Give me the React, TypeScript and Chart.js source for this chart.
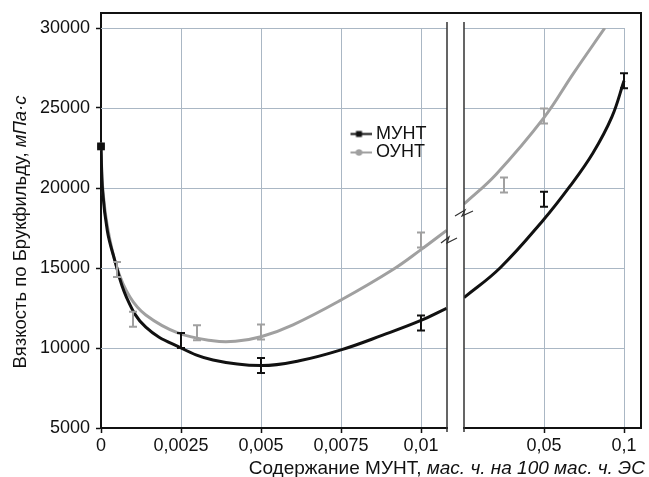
import { useEffect, useRef } from 'react';
import { Chart, registerables } from 'chart.js';

Chart.register(...registerables);

// ---- axes ----
const Y_TICKS = [5000, 10000, 15000, 20000, 25000, 30000];
const X_LEFT_TICKS = [0, 0.0025, 0.005, 0.0075, 0.01];
const X_LEFT_LABELS = ['0', '0,0025', '0,005', '0,0075', '0,01'];
const X_RIGHT_TICKS = [0.05, 0.1];
const X_RIGHT_LABELS = ['0,05', '0,1'];

const SERIES = ['МУНТ', 'ОУНТ'];
const X_TITLE_MAIN = 'Содержание МУНТ, ';
const X_TITLE_UNIT = 'мас. ч. на 100 мас. ч. ЭС';
const Y_TITLE_MAIN = 'Вязкость по Брукфильду, ';
const Y_TITLE_UNIT = 'мПа·с';

// ---- starting value (both series) ----
const START_X = [0];
const START_Y = [22600];

// ---- fitted curves: МУНТ ----
const MUNT_FIT_LEFT_X = [0, 0.00005, 0.0002, 0.0004, 0.0008, 0.0014, 0.0025, 0.0035, 0.005, 0.0062, 0.0075, 0.0088, 0.01, 0.0108];
const MUNT_FIT_LEFT_Y = [22600, 19800, 17300, 15700, 13150, 11300, 10000, 9250, 8900, 9200, 9880, 10800, 11720, 12480];
const MUNT_FIT_RIGHT_X = [0, 0.0225, 0.0496, 0.066, 0.0806, 0.0925, 0.1];
const MUNT_FIT_RIGHT_Y = [13150, 15000, 18000, 20080, 22190, 24460, 26700];

// ---- fitted curves: ОУНТ ----
const OUNT_FIT_LEFT_X = [0, 0.00005, 0.0002, 0.0005, 0.0009, 0.0014, 0.0024, 0.0035, 0.0042, 0.005, 0.006, 0.0075, 0.0091, 0.01, 0.0108];
const OUNT_FIT_LEFT_Y = [22600, 20100, 17600, 15000, 13200, 12060, 10940, 10450, 10420, 10700, 11450, 13000, 14875, 16150, 17350];
const OUNT_FIT_RIGHT_X = [0, 0.02, 0.05, 0.0683, 0.088];
const OUNT_FIT_RIGHT_Y = [19000, 20850, 24400, 27150, 30000];

// ---- measured values with error (МУНТ) ----
const MUNT_X_LEFT = [0.0025, 0.005, 0.01];
const MUNT_Y_LEFT = [10470, 8900, 11560];
const MUNT_ERR_LEFT = [470, 470, 470];
const MUNT_X_RIGHT = [0.05, 0.1];
const MUNT_Y_RIGHT = [19300, 26700];
const MUNT_ERR_RIGHT = [470, 470];

// ---- measured values with error (ОУНТ) ----
const OUNT_X_LEFT = [0.0005, 0.001, 0.003, 0.005, 0.01];
const OUNT_Y_LEFT = [14900, 11800, 10950, 11000, 16750];
const OUNT_ERR_LEFT = [470, 470, 470, 470, 470];
const OUNT_X_RIGHT = [0.025, 0.05];
const OUNT_Y_RIGHT = [20190, 24500];
const OUNT_ERR_RIGHT = [470, 470];

const BLACK = '#111111';
const GREY = '#a0a0a0';
const GRID = '#aab7c4';
const FONT = '"Liberation Sans", Arial, Helvetica, sans-serif';

const xy = (xs: number[], ys: number[]) => xs.map((x, i) => ({ x, y: ys[i] }));

export default function App() {
  const ref = useRef<HTMLCanvasElement>(null);

  useEffect(() => {
    const canvas = ref.current;
    if (!canvas) return;

    const makeIcon = (color: string, shape: 'rect' | 'circle') => {
      const c = document.createElement('canvas');
      c.width = 25;
      c.height = 9;
      const g = c.getContext('2d')!;
      g.strokeStyle = color;
      g.lineWidth = 2;
      g.beginPath();
      g.moveTo(0, 4.5);
      g.lineTo(25, 4.5);
      g.stroke();
      g.fillStyle = color;
      if (shape === 'rect') {
        g.fillRect(9.5, 1.5, 6, 6);
      } else {
        g.beginPath();
        g.arc(12.5, 4.5, 3.3, 0, Math.PI * 2);
        g.fill();
      }
      return c;
    };
    const icons: Record<string, HTMLCanvasElement> = {
      [SERIES[0]]: makeIcon(BLACK, 'rect'),
      [SERIES[1]]: makeIcon(GREY, 'circle'),
    };

    const curve = (label: string, data: any[], color: string, axis: string, inLegend: boolean) => ({
      label,
      data,
      xAxisID: axis,
      yAxisID: 'y',
      borderColor: color,
      backgroundColor: color,
      borderWidth: 3,
      pointRadius: 0,
      tension: 0.4,
      fill: false,
      inLegend,
    });
    const measured = (label: string, data: any[], color: string, axis: string, errors: number[]) => ({
      label,
      data,
      xAxisID: axis,
      yAxisID: 'y',
      borderColor: color,
      backgroundColor: color,
      showLine: false,
      pointRadius: 0,
      errors,
    });

    const deco = {
      id: 'deco',
      afterLayout(chart: any) {
        const lg = chart.legend;
        if (lg) {
          lg.left = 350.5;
          lg.top = 124.5;
          lg.width = 120;
          lg.height = 60;
          lg.right = lg.left + lg.width;
          lg.bottom = lg.top + lg.height;
        }
      },
      beforeDatasetsDraw(chart: any) {
        const { ctx, scales } = chart;
        const y = scales.y, xl = scales.x, xr = scales.x2;
        ctx.save();
        ctx.strokeStyle = GRID;
        ctx.lineWidth = 1;
        Y_TICKS.forEach((v) => {
          if (v === Y_TICKS[0]) return;
          const py = Math.round(y.getPixelForValue(v)) + 0.5;
          ctx.beginPath();
          ctx.moveTo(xl.getPixelForValue(0), py);
          ctx.lineTo(xl.right, py);
          ctx.moveTo(xr.getPixelForValue(0), py);
          ctx.lineTo(xr.getPixelForValue(X_RIGHT_TICKS[X_RIGHT_TICKS.length - 1]), py);
          ctx.stroke();
        });
        ctx.restore();
      },
      afterDatasetsDraw(chart: any) {
        const { ctx } = chart;
        ctx.save();
        chart.data.datasets.forEach((ds: any, i: number) => {
          if (!ds.errors) return;
          const meta = chart.getDatasetMeta(i);
          const xs = chart.scales[meta.xAxisID];
          const ys = chart.scales[meta.yAxisID];
          ctx.strokeStyle = ds.borderColor;
          ctx.lineWidth = 2;
          ds.data.forEach((p: any, j: number) => {
            const px = xs.getPixelForValue(p.x);
            const t = ys.getPixelForValue(p.y + ds.errors[j]);
            const b = ys.getPixelForValue(p.y - ds.errors[j]);
            ctx.beginPath();
            ctx.moveTo(px, t);
            ctx.lineTo(px, b);
            ctx.moveTo(px - 4, t);
            ctx.lineTo(px + 4, t);
            ctx.moveTo(px - 4, b);
            ctx.lineTo(px + 4, b);
            ctx.stroke();
          });
        });
        ctx.restore();
      },
      afterDraw(chart: any) {
        const { ctx, chartArea, scales } = chart;
        const xl = scales.x, xr = scales.x2;
        const frameTop = chartArea.top - 15;
        ctx.save();
        // frame
        ctx.strokeStyle = '#111';
        ctx.lineWidth = 2;
        ctx.beginPath();
        ctx.moveTo(chartArea.left, chartArea.top);
        ctx.lineTo(chartArea.left, frameTop);
        ctx.lineTo(chartArea.right, frameTop);
        ctx.lineTo(chartArea.right, chartArea.bottom);
        ctx.stroke();
        // break lines
        ctx.strokeStyle = '#333';
        ctx.lineWidth = 1.5;
        ctx.beginPath();
        ctx.moveTo(xl.right, chartArea.top - 6);
        ctx.lineTo(xl.right, chartArea.bottom + 4);
        ctx.moveTo(xr.left, chartArea.top - 6);
        ctx.lineTo(xr.left, chartArea.bottom + 4);
        ctx.stroke();
        // break zigzags
        ctx.lineWidth = 1.2;
        ctx.beginPath();
        ctx.moveTo(xr.left - 9, 216);
        ctx.lineTo(xr.left + 1, 210);
        ctx.lineTo(xr.left - 2, 216);
        ctx.lineTo(xr.left + 9, 211);
        ctx.moveTo(xl.right - 6, 243);
        ctx.lineTo(xl.right + 2, 237);
        ctx.lineTo(xl.right, 243);
        ctx.lineTo(xl.right + 10, 238);
        ctx.stroke();
        // titles
        ctx.fillStyle = '#111';
        ctx.textBaseline = 'alphabetic';
        ctx.textAlign = 'left';
        const xn = `19px ${FONT}`;
        const xi = `italic 19px ${FONT}`;
        ctx.font = xn;
        const w1 = ctx.measureText(X_TITLE_MAIN).width;
        ctx.font = xi;
        const w2 = ctx.measureText(X_TITLE_UNIT).width;
        const xStart = 645 - w1 - w2;
        ctx.font = xn;
        ctx.fillText(X_TITLE_MAIN, xStart, 474);
        ctx.font = xi;
        ctx.fillText(X_TITLE_UNIT, xStart + w1, 474);

        const yn = `18.5px ${FONT}`;
        const yi = `italic 18.5px ${FONT}`;
        ctx.font = yn;
        const v1 = ctx.measureText(Y_TITLE_MAIN).width;
        ctx.font = yi;
        const v2 = ctx.measureText(Y_TITLE_UNIT).width;
        ctx.translate(26, 232);
        ctx.rotate(-Math.PI / 2);
        const s = -(v1 + v2) / 2;
        ctx.font = yn;
        ctx.fillText(Y_TITLE_MAIN, s, 0);
        ctx.font = yi;
        ctx.fillText(Y_TITLE_UNIT, s + v1, 0);
        ctx.restore();
      },
    };

    Chart.defaults.font.family = FONT;
    Chart.defaults.font.size = 18;
    Chart.defaults.color = '#111';

    const tickFont = { family: FONT, size: 18 };

    const chart = new Chart(canvas, {
      type: 'line',
      data: {
        datasets: [
          {
            label: 'МУНТ start',
            data: xy(START_X, START_Y),
            xAxisID: 'x',
            yAxisID: 'y',
            showLine: false,
            clip: false,
            pointStyle: 'rect',
            pointRadius: 5.5,
            pointBorderWidth: 0,
            backgroundColor: BLACK,
            borderColor: BLACK,
          },
          curve(SERIES[0], xy(MUNT_FIT_LEFT_X, MUNT_FIT_LEFT_Y), BLACK, 'x', true),
          curve(SERIES[0] + ' fit 2', xy(MUNT_FIT_RIGHT_X, MUNT_FIT_RIGHT_Y), BLACK, 'x2', false),
          {
            label: 'ОУНТ start',
            data: xy(START_X, START_Y),
            xAxisID: 'x',
            yAxisID: 'y',
            showLine: false,
            clip: false,
            pointStyle: 'circle',
            pointRadius: 3.8,
            pointBorderWidth: 0,
            backgroundColor: GREY,
            borderColor: GREY,
          },
          curve(SERIES[1], xy(OUNT_FIT_LEFT_X, OUNT_FIT_LEFT_Y), GREY, 'x', true),
          curve(SERIES[1] + ' fit 2', xy(OUNT_FIT_RIGHT_X, OUNT_FIT_RIGHT_Y), GREY, 'x2', false),
          measured('МУНТ data 1', xy(MUNT_X_LEFT, MUNT_Y_LEFT), BLACK, 'x', MUNT_ERR_LEFT),
          measured('МУНТ data 2', xy(MUNT_X_RIGHT, MUNT_Y_RIGHT), BLACK, 'x2', MUNT_ERR_RIGHT),
          measured('ОУНТ data 1', xy(OUNT_X_LEFT, OUNT_Y_LEFT), GREY, 'x', OUNT_ERR_LEFT),
          measured('ОУНТ data 2', xy(OUNT_X_RIGHT, OUNT_Y_RIGHT), GREY, 'x2', OUNT_ERR_RIGHT),
        ] as any,
      },
      options: {
        animation: false,
        responsive: false,
        layout: { padding: { top: 28, right: 8, bottom: 0, left: 0 } },
        plugins: {
          tooltip: { enabled: false },
          legend: {
            position: 'chartArea' as any,
            align: 'start',
            labels: {
              usePointStyle: true,
              boxWidth: 16,
              pointStyleWidth: 16,
              padding: 0.5,
              color: '#111',
              font: { family: FONT, size: 18 },
              generateLabels: (ch: any) =>
                (Chart.defaults.plugins.legend.labels.generateLabels as any)(ch)
                  .filter((it: any) => ch.data.datasets[it.datasetIndex].inLegend)
                  .map((it: any) => ({ ...it, pointStyle: icons[it.text], fontColor: '#111' })),
            },
          },
        },
        scales: {
          x: {
            type: 'linear',
            position: 'bottom',
            stack: 'xs',
            stackWeight: 346,
            min: 0,
            max: 0.0108125,
            afterBuildTicks: (s: any) => {
              s.ticks = X_LEFT_TICKS.map((v) => ({ value: v }));
            },
            afterFit: (s: any) => {
              s.height = 49;
            },
            ticks: {
              autoSkip: false,
              maxRotation: 0,
              padding: 2,
              color: '#111',
              font: tickFont,
              callback: (v: any) => X_LEFT_LABELS[X_LEFT_TICKS.indexOf(v)] ?? '',
            },
            grid: { color: GRID, lineWidth: 1, tickColor: '#111', tickLength: 5, tickWidth: 1.5 },
            border: { color: '#111', width: 2 },
          },
          xg: {
            type: 'linear',
            position: 'bottom',
            stack: 'xs',
            stackWeight: 17,
            min: 0,
            max: 1,
            afterFit: (s: any) => {
              s.height = 49;
            },
            ticks: { display: false },
            grid: { display: false },
            border: { display: false },
          },
          x2: {
            type: 'linear',
            position: 'bottom',
            stack: 'xs',
            stackWeight: 177,
            min: 0,
            max: 0.110625,
            afterBuildTicks: (s: any) => {
              s.ticks = X_RIGHT_TICKS.map((v) => ({ value: v }));
            },
            afterFit: (s: any) => {
              s.height = 49;
            },
            ticks: {
              autoSkip: false,
              maxRotation: 0,
              padding: 2,
              color: '#111',
              font: tickFont,
              callback: (v: any) => X_RIGHT_LABELS[X_RIGHT_TICKS.indexOf(v)] ?? '',
            },
            grid: { color: GRID, lineWidth: 1, tickColor: '#111', tickLength: 5, tickWidth: 1.5 },
            border: { color: '#111', width: 2 },
          },
          y: {
            type: 'linear',
            position: 'left',
            min: Y_TICKS[0],
            max: Y_TICKS[Y_TICKS.length - 1],
            afterBuildTicks: (s: any) => {
              s.ticks = Y_TICKS.map((v) => ({ value: v }));
            },
            afterFit: (s: any) => {
              s.width = 101;
            },
            ticks: {
              padding: 6,
              color: '#111',
              font: tickFont,
              callback: (v: any) => String(v),
            },
            grid: { drawOnChartArea: false, tickColor: '#111', tickLength: 5, tickWidth: 1.5 },
            border: { color: '#111', width: 2 },
          },
        } as any,
      },
      plugins: [deco],
    });

    return () => chart.destroy();
  }, []);

  return (
    <div style={{ position: 'fixed', left: 0, top: 0, width: 649, height: 477, background: '#fff' }}>
      <canvas ref={ref} width={649} height={477} style={{ display: 'block', width: 649, height: 477 }} />
    </div>
  );
}
